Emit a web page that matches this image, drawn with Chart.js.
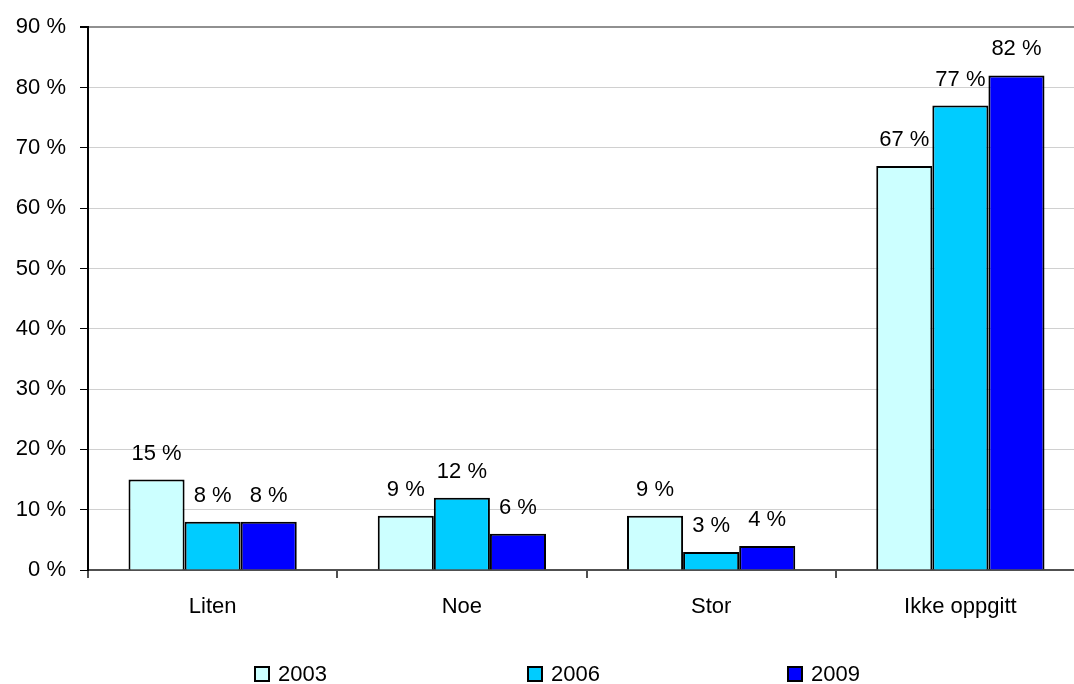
<!DOCTYPE html>
<html>
<head>
<meta charset="utf-8">
<style>
  html, body { margin: 0; padding: 0; background: #fff; overflow: hidden; }
  #wrap { width: 1074px; height: 684px; overflow: hidden; }
</style>
<script src="https://cdn.jsdelivr.net/npm/chart.js@4"></script>
</head>
<body>
<!-- the original plot runs past the right edge of the picture, so the canvas is a bit wider and clipped -->
<div id="wrap"><canvas id="chart" width="1090" height="684"></canvas></div>
<script>
// categories and series
const categories = ['Liten', 'Noe', 'Stor', 'Ikke oppgitt'];
const years = ['2003', '2006', '2009'];
const values2003 = [15, 9, 9, 67];
const values2006 = [8, 12, 3, 77];
const values2009 = [8, 6, 4, 82];
const labels2003 = ['15 %', '9 %', '9 %', '67 %'];
const labels2006 = ['8 %', '12 %', '3 %', '77 %'];
const labels2009 = ['8 %', '6 %', '4 %', '82 %'];
const yTicks = [0, 10, 20, 30, 40, 50, 60, 70, 80, 90];

const colors = ['#CCFFFF', '#00CCFF', '#0000FF'];
const FONT = '"Liberation Sans", Arial, sans-serif';
const FONT_SIZE = 22;

// value labels above each bar
const barLabels = {
    id: 'barLabels',
    afterDatasetsDraw(chart) {
        const ctx = chart.ctx;
        ctx.save();
        ctx.font = FONT_SIZE + 'px ' + FONT;
        ctx.fillStyle = '#000';
        ctx.textAlign = 'center';
        ctx.textBaseline = 'alphabetic';
        chart.data.datasets.forEach((ds, i) => {
            chart.getDatasetMeta(i).data.forEach((bar, j) => {
                ctx.fillText(ds.valueLabels[j], bar.x, bar.y - 20);
            });
        });
        ctx.restore();
    }
};

// legend spread across the bottom like the original
const spreadLegend = {
    id: 'spreadLegend',
    afterDraw(chart) {
        const ctx = chart.ctx;
        const boxX = [255, 528, 788];
        const y = 667;
        ctx.save();
        ctx.font = FONT_SIZE + 'px ' + FONT;
        ctx.textBaseline = 'middle';
        ctx.textAlign = 'left';
        chart.data.datasets.forEach((ds, i) => {
            ctx.fillStyle = ds.backgroundColor;
            ctx.fillRect(boxX[i], y, 14, 14);
            ctx.strokeStyle = '#000';
            ctx.lineWidth = 2;
            ctx.strokeRect(boxX[i], y, 14, 14);
            ctx.fillStyle = '#000';
            ctx.fillText(ds.label, boxX[i] + 23, y + 8);
        });
        ctx.restore();
    }
};

new Chart(document.getElementById('chart'), {
    type: 'bar',
    data: {
        labels: categories,
        datasets: [
            { label: years[0], data: values2003, valueLabels: labels2003, backgroundColor: colors[0] },
            { label: years[1], data: values2006, valueLabels: labels2006, backgroundColor: colors[1] },
            { label: years[2], data: values2009, valueLabels: labels2009, backgroundColor: colors[2] }
        ].map(ds => Object.assign(ds, {
            borderColor: '#000',
            borderWidth: 2,
            categoryPercentage: 0.675,
            barPercentage: 1.0
        }))
    },
    options: {
        responsive: false,
        animation: false,
        layout: { padding: { left: 0, right: 5, top: 26, bottom: 0 } },
        plugins: {
            legend: { display: false },
            tooltip: { enabled: false }
        },
        scales: {
            x: {
                grid: {
                    offset: true,
                    drawOnChartArea: false,
                    drawTicks: true,
                    tickLength: 8,
                    color: '#505050',
                    lineWidth: 2
                },
                border: { color: '#505050', width: 2 },
                ticks: {
                    color: '#000',
                    font: { family: FONT, size: FONT_SIZE },
                    padding: 16
                },
                afterFit(scale) { scale.height = 114; }
            },
            y: {
                min: 0,
                max: 90,
                afterBuildTicks(scale) { scale.ticks = yTicks.map(v => ({ value: v })); },
                grid: {
                    color: ctx => ctx.tick && ctx.tick.value === 90 ? '#909090' : '#D0D0D0',
                    lineWidth: ctx => ctx.tick && ctx.tick.value === 90 ? 2 : 1,
                    tickColor: '#000',
                    tickLength: 8
                },
                border: { color: '#000', width: 2 },
                ticks: {
                    color: '#000',
                    font: { family: FONT, size: FONT_SIZE },
                    padding: 14,
                    callback: v => v + ' %'
                },
                afterFit(scale) { scale.width = 88; }
            }
        }
    },
    plugins: [barLabels, spreadLegend]
});
</script>
</body>
</html>
